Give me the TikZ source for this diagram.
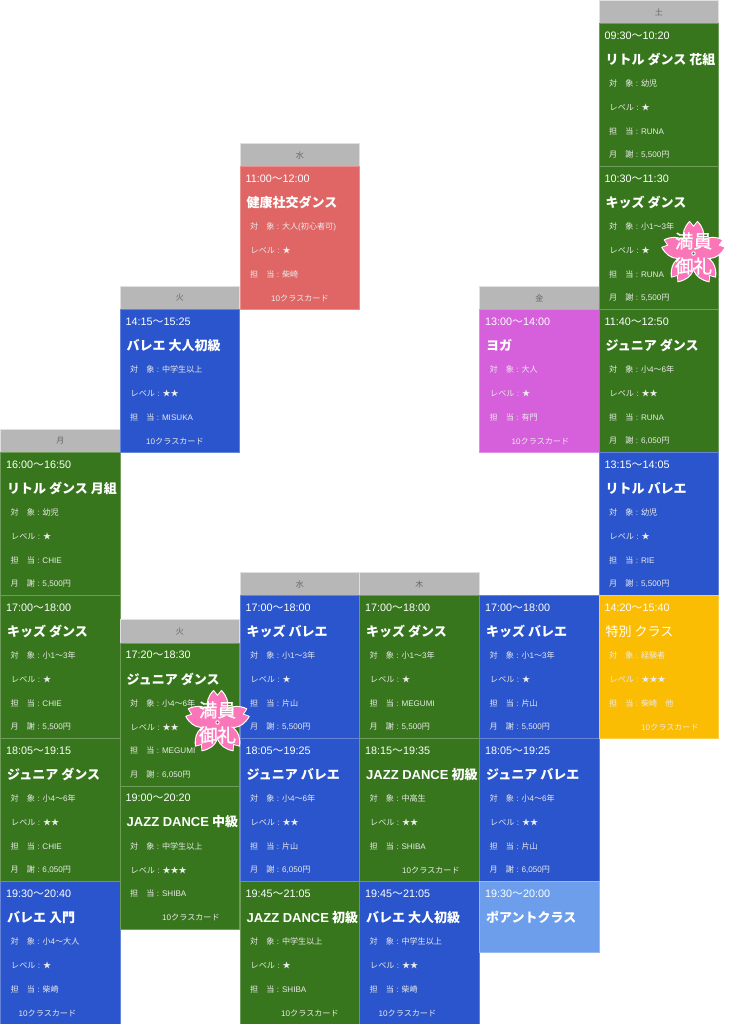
\documentclass[tikz,border=0pt]{standalone}
\usepackage{fontspec}
\setmainfont{Noto Sans CJK JP}
\newfontfamily\latfont{Liberation Sans}
\newfontfamily\sakurafont[FakeBold=1.2]{Noto Sans CJK JP}
\newcommand{\lat}[1]{{\latfont #1}}
\definecolor{cgreen}{HTML}{38761D}
\definecolor{cblue}{HTML}{2A55CC}
\definecolor{cred}{HTML}{E06666}
\definecolor{cpurple}{HTML}{D65FDB}
\definecolor{cyellow}{HTML}{FBBC04}
\definecolor{clight}{HTML}{6D9EEB}
\definecolor{cgrey}{HTML}{B7B7B7}
\definecolor{cpink}{HTML}{FB76B8}
\tikzset{
  x=1pt,y=-1pt,
  cardbox/.style={draw=#1!72!white,fill=#1,line width=0.7pt},
  headbox/.style={draw=white!88!black,fill=cgrey,line width=0.7pt},
  headtext/.style={text=black!60,font=\fontsize{8}{8}\selectfont,inner sep=0},
  timetext/.style={text=white,anchor=west,inner sep=0,font=\fontsize{10.8}{11}\selectfont},
  titletext/.style={text=white,anchor=west,inner sep=0,font=\fontsize{13}{13}\selectfont\bfseries},
  infotext/.style={text=white!92!black,anchor=west,inner sep=0,font=\fontsize{8.1}{8}\selectfont},
  petal/.style={fill=cpink,draw=white,line width=1.1pt,line join=round},
  sakuratext/.style={text=white,inner sep=0,font=\sakurafont\fontsize{18.5}{18.5}\selectfont},
}
\def\splittime#1〜#2\relax{\lat{#1}〜\lat{#2}}
\newcommand{\cardrect}[5]{\path[cardbox=#5] (#2,#3) rectangle (#2+119.5,#4);}
\newcommand{\dayhead}[3]{\path[headbox] (#1,#2) rectangle (#1+119.5,#2+23.5);
  \node[headtext] at (#1+59.75,#2+12) {#3};}
\newcommand{\classcard}[9]{\cardrect{}{#1}{#2}{#3}{#4}%
  \node[timetext] at (#1+5.5,#2+12) {\splittime#5\relax};
  \node[titletext] at (#1+6.5,#2+36) {#6};
  \node[infotext] at (#1+10,#2+60) {#7};
  \node[infotext] at (#1+10.5,#2+84) {#8};
  \node[infotext] at (#1+10,#2+107.7) {#9};
  \classlast{#1}{#2}}
\newcommand{\classlast}[2]{\node[infotext] at (#1+\lastx,#2+131.5) {\lasttext};}
\newcommand{\lastline}[2]{\def\lastx{#1}\def\lasttext{#2}}
\newcommand{\fee}[1]{\lastline{10}{月　謝\lat{ : #1}円}}
\newcommand{\tenc}[1]{\lastline{#1}{\lat{10}クラスカード}}
\newcommand{\whom}[1]{対　象\lat{ : }#1}
\newcommand{\lev}[1]{レベル\lat{ : }#1}
\newcommand{\who}[1]{担　当\lat{ : }#1}
\newcommand{\sakura}[2]{%
  \begin{scope}[shift={(#1,#2)}]
    \foreach \a in {90,162,234,306,18}{
      \path[petal,rotate=\a] (0,0) .. controls (9,-10) and (20,-15) .. (32,-4)
        -- (27,0) -- (32,4) .. controls (20,15) and (9,10) .. (0,0) -- cycle;
    }
    \foreach \a in {90,162,234,306,18}{
      \path[fill=cpink,rotate=\a] (0,0) .. controls (9,-9) and (19.5,-14) .. (31,-3.7)
        -- (26,0) -- (31,3.7) .. controls (19.5,14) and (9,9) .. (0,0) -- cycle;
    }
    \fill[white] (0,0) circle (2.2);
    \fill[black!55!cpink] (0,0) circle (1.2);
    \node[sakuratext] at (0,-12.5) {満員};
    \node[sakuratext] at (0,12.5) {御礼};
  \end{scope}}
\begin{document}
\begin{tikzpicture}
\useasboundingbox (0,0) rectangle (729,1024);
\fill[white] (0,0) rectangle (729,1024);
% column 0
\dayhead{0.5}{429}{月}
\fee{5,500}\classcard{0.5}{452.5}{595.5}{cgreen}{16:00〜16:50}{リトル ダンス 月組}{\whom{幼児}}{\lev{★}}{\who{\lat{CHIE}}}
\fee{5,500}\classcard{0.5}{595.5}{738.5}{cgreen}{17:00〜18:00}{キッズ ダンス}{\whom{小\lat{1}〜\lat{3}年}}{\lev{★}}{\who{\lat{CHIE}}}
\fee{6,050}\classcard{0.5}{738.5}{881.5}{cgreen}{18:05〜19:15}{ジュニア ダンス}{\whom{小\lat{4}〜\lat{6}年}}{\lev{★★}}{\who{\lat{CHIE}}}
\tenc{18}\classcard{0.5}{881.5}{1024.5}{cblue}{19:30〜20:40}{バレエ 入門}{\whom{小\lat{4}〜大人}}{\lev{★}}{\who{柴崎}}
% column 1
\dayhead{120}{286}{火}
\tenc{26}\classcard{120}{309.5}{452.5}{cblue}{14:15〜15:25}{バレエ 大人初級}{\whom{中学生以上}}{\lev{★★}}{\who{\lat{MISUKA}}}
\dayhead{120}{619.5}{火}
\fee{6,050}\classcard{120}{643}{786}{cgreen}{17:20〜18:30}{ジュニア ダンス}{\whom{小\lat{4}〜\lat{6}年}}{\lev{★★}}{\who{\lat{MEGUMI}}}
\tenc{42}\classcard{120}{786}{929}{cgreen}{19:00〜20:20}{\lat{JAZZ DANCE} 中級}{\whom{中学生以上}}{\lev{★★★}}{\who{\lat{SHIBA}}}
% column 2
\dayhead{240}{143}{水}
\tenc{31}\classcard{240}{166.5}{309.5}{cred}{11:00〜12:00}{健康社交ダンス}{\whom{大人\lat{(}初心者可\lat{)}}}{\lev{★}}{\who{柴崎}}
\dayhead{240}{572}{水}
\fee{5,500}\classcard{240}{595.5}{738.5}{cblue}{17:00〜18:00}{キッズ バレエ}{\whom{小\lat{1}〜\lat{3}年}}{\lev{★}}{\who{片山}}
\fee{6,050}\classcard{240}{738.5}{881.5}{cblue}{18:05〜19:25}{ジュニア バレエ}{\whom{小\lat{4}〜\lat{6}年}}{\lev{★★}}{\who{片山}}
\tenc{41}\classcard{240}{881.5}{1024.5}{cgreen}{19:45〜21:05}{\lat{JAZZ DANCE} 初級}{\whom{中学生以上}}{\lev{★}}{\who{\lat{SHIBA}}}
% column 3
\dayhead{359.5}{572}{木}
\fee{5,500}\classcard{359.5}{595.5}{738.5}{cgreen}{17:00〜18:00}{キッズ ダンス}{\whom{小\lat{1}〜\lat{3}年}}{\lev{★}}{\who{\lat{MEGUMI}}}
\tenc{42.5}\classcard{359.5}{738.5}{881.5}{cgreen}{18:15〜19:35}{\lat{JAZZ DANCE} 初級}{\whom{中高生}}{\lev{★★}}{\who{\lat{SHIBA}}}
\tenc{19}\classcard{359.5}{881.5}{1024.5}{cblue}{19:45〜21:05}{バレエ 大人初級}{\whom{中学生以上}}{\lev{★★}}{\who{柴崎}}
% column 4
\dayhead{479.5}{286}{金}
\tenc{32}\classcard{479.5}{309.5}{452.5}{cpurple}{13:00〜14:00}{ヨガ}{\whom{大人}}{\lev{★}}{\who{有門}}
\fee{5,500}\classcard{479.5}{595.5}{738.5}{cblue}{17:00〜18:00}{キッズ バレエ}{\whom{小\lat{1}〜\lat{3}年}}{\lev{★}}{\who{片山}}
\fee{6,050}\classcard{479.5}{738.5}{881.5}{cblue}{18:05〜19:25}{ジュニア バレエ}{\whom{小\lat{4}〜\lat{6}年}}{\lev{★★}}{\who{片山}}
\cardrect{}{479.5}{881.5}{952}{clight}
\node[timetext] at (485,893.5) {\splittime 19:30〜20:00\relax};
\node[titletext] at (486,917.5) {ポアントクラス};
% column 5
\dayhead{599}{0}{土}
\fee{5,500}\classcard{599}{23.5}{166.5}{cgreen}{09:30〜10:20}{リトル ダンス 花組}{\whom{幼児}}{\lev{★}}{\who{\lat{RUNA}}}
\fee{5,500}\classcard{599}{166.5}{309.5}{cgreen}{10:30〜11:30}{キッズ ダンス}{\whom{小\lat{1}〜\lat{3}年}}{\lev{★}}{\who{\lat{RUNA}}}
\fee{6,050}\classcard{599}{309.5}{452.5}{cgreen}{11:40〜12:50}{ジュニア ダンス}{\whom{小\lat{4}〜\lat{6}年}}{\lev{★★}}{\who{\lat{RUNA}}}
\fee{5,500}\classcard{599}{452.5}{595.5}{cblue}{13:15〜14:05}{リトル バレエ}{\whom{幼児}}{\lev{★}}{\who{\lat{RIE}}}
\tenc{42}\classcard{599}{595.5}{738.5}{cyellow}{14:20〜15:40}{\mdseries 特別 クラス}{\whom{経験者}}{\lev{★★★}}{\who{柴崎　他}}
% badges
\sakura{693.5}{253.5}
\sakura{217.5}{722.5}
\end{tikzpicture}
\end{document}
